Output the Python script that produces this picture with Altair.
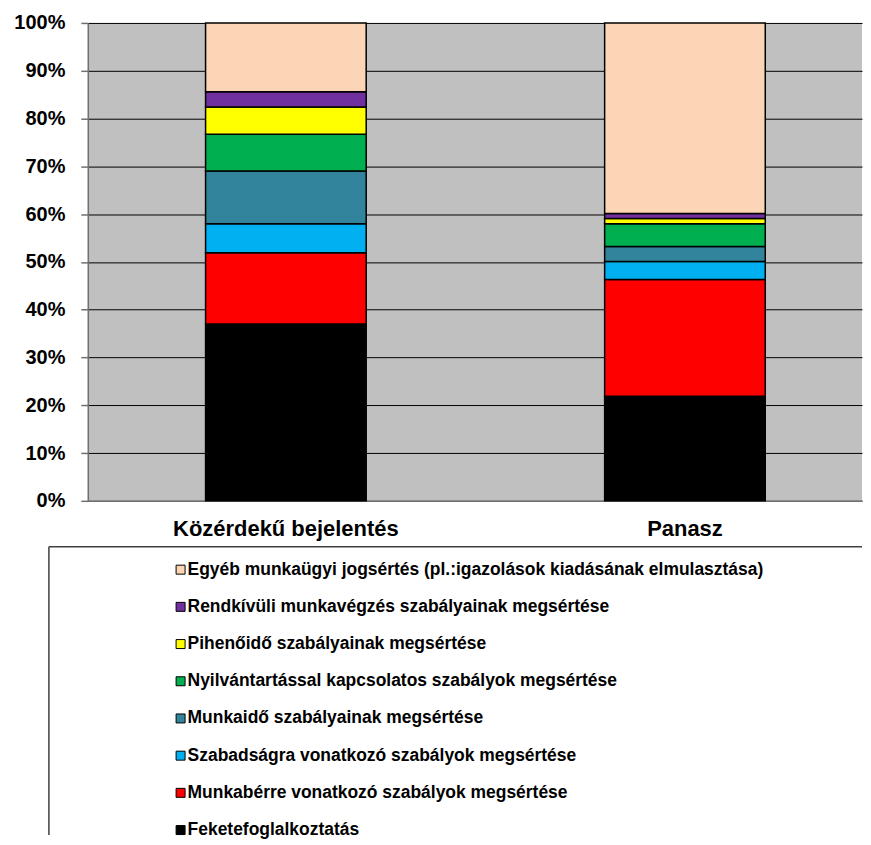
import altair as alt
import pandas as pd

categories = ["Közérdekű bejelentés", "Panasz"]
series = [
    "Feketefoglalkoztatás",
    "Munkabérre vonatkozó szabályok megsértése",
    "Szabadságra vonatkozó szabályok megsértése",
    "Munkaidő szabályainak megsértése",
    "Nyilvántartással kapcsolatos szabályok megsértése",
    "Pihenőidő szabályainak megsértése",
    "Rendkívüli munkavégzés szabályainak megsértése",
    "Egyéb munkaügyi jogsértés (pl.:igazolások kiadásának elmulasztása)",
]
kozerdeku = [37.0, 14.9, 6.1, 11.0, 7.7, 5.7, 3.2, 14.4]
panasz = [21.9, 24.4, 3.8, 3.1, 4.8, 1.1, 1.0, 39.9]
colors = ["#000000", "#FF0000", "#00B0F0", "#31849B", "#00B050", "#FFFF00", "#7030A0", "#FBD5B5"]

rows = []
for cat, vals in zip(categories, [kozerdeku, panasz]):
    for i, (s, v) in enumerate(zip(series, vals)):
        rows.append({"cat": cat, "series": s, "idx": i, "value": v})
df = pd.DataFrame(rows)

legend_order = list(reversed(series))
df_leg = pd.DataFrame({"series": legend_order})

FONT = "Liberation Sans"
color_scale = alt.Scale(domain=series, range=colors)

PW, PH = 776, 479
bars = (
    alt.Chart(df)
    .mark_bar(stroke="#000000", strokeWidth=1.5)
    .encode(
        x=alt.X(
            "cat:N",
            sort=categories,
            title=None,
            scale=alt.Scale(paddingInner=0.5975, paddingOuter=0.26875, align=0.549),
            axis=alt.Axis(
                labelAngle=0,
                labelFont=FONT,
                labelFontSize=22,
                labelFontWeight="bold",
                labelColor="#000000",
                labelPadding=18,
                labelLimit=0,
                domainColor="#707070",
                domainWidth=1.5,
                ticks=False,
                grid=False,
            ),
        ),
        y=alt.Y(
            "value:Q",
            stack="normalize",
            title=None,
            scale=alt.Scale(domain=[0, 1]),
            axis=alt.Axis(
                values=[i / 10 for i in range(11)],
                format=".0%",
                labelFont=FONT,
                labelFontSize=20,
                labelFontWeight="bold",
                labelColor="#000000",
                labelPadding=16,
                tickSize=7,
                tickColor="#707070",
                tickWidth=1.5,
                domainColor="#707070",
                domainWidth=1.5,
                gridColor="#000000",
                gridWidth=1,
            ),
        ),
        color=alt.Color("series:N", scale=color_scale, legend=None),
        order=alt.Order("idx:Q", sort="ascending"),
    )
    .properties(width=PW, height=PH, view=alt.ViewBackground(fill="#C0C0C0", stroke=None))
)

# empty space left of the plot area, so that the legend box can start further left
spacer = (
    alt.Chart(pd.DataFrame({"series": series[:1]}))
    .mark_point(opacity=0)
    .properties(width=39, height=PH, view=alt.ViewBackground(stroke=None))
)

LW, LH = 815, 289
ybase = alt.Y(
    "series:N",
    sort=legend_order,
    axis=None,
    scale=alt.Scale(type="point", range=[23, 284], padding=0),
)

leg_sym = (
    alt.Chart(df_leg)
    .mark_square(size=81, stroke="#000000", strokeWidth=1, opacity=1)
    .encode(
        x=alt.value(132),
        y=ybase,
        color=alt.Color("series:N", scale=color_scale, legend=None),
    )
)
leg_txt = (
    alt.Chart(df_leg)
    .mark_text(align="left", baseline="middle", font=FONT, fontSize=17.5, fontWeight="bold", color="#000000")
    .encode(x=alt.value(139), y=ybase, text="series:N")
)
# box: only the top and left edges are drawn (the rest lies outside the picture)
legend_panel = alt.layer(leg_sym, leg_txt).properties(
    width=LW,
    height=LH,
    view=alt.ViewBackground(
        fill="#FFFFFF", stroke="#404040", strokeWidth=1.5, strokeDash=[LW, LH + LW, LH, 0]
    ),
)

top_row = alt.hconcat(spacer, bars, spacing=0, bounds="flush")

chart = (
    alt.vconcat(top_row, legend_panel, spacing=6)
    .properties(padding={"left": 5, "top": 4, "right": 0, "bottom": 0}, background="#FFFFFF")
)

chart.save("out.html", embed_options={"renderer": "svg", "actions": False})
